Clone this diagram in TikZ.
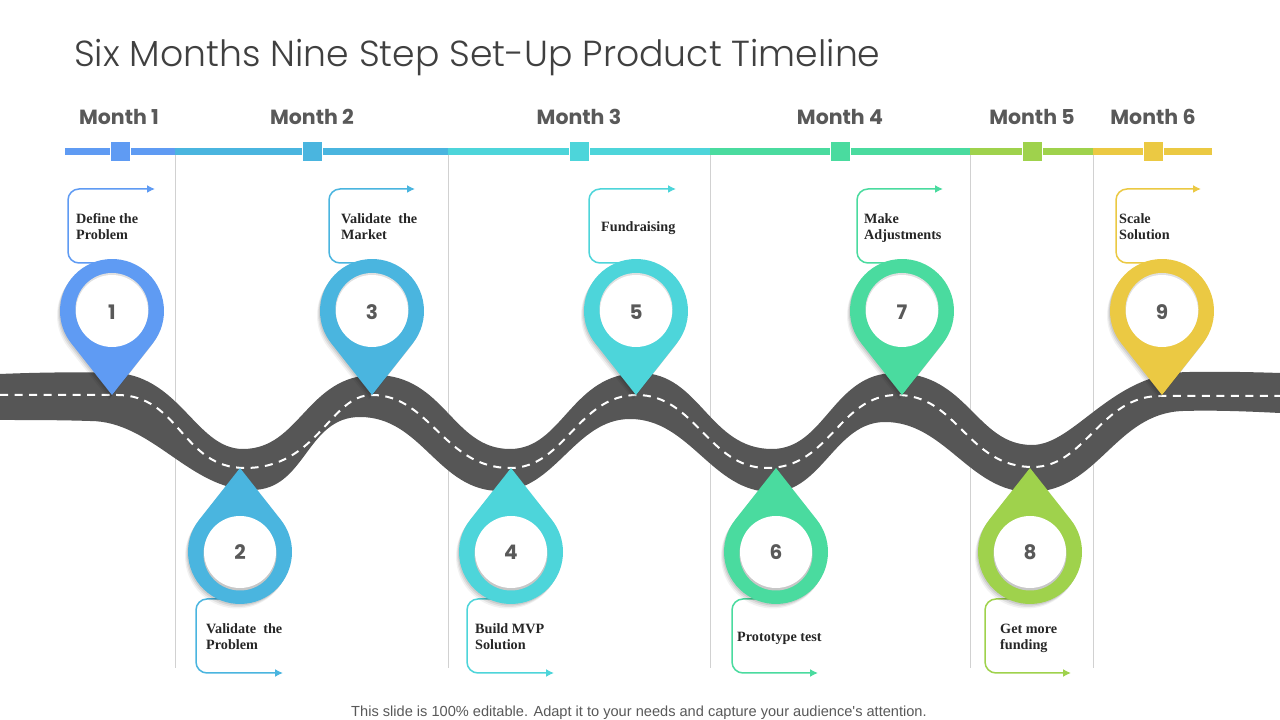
\documentclass[tikz,border=0pt]{standalone}
\usepackage{fontspec}
\setmainfont{Liberation Serif}
\newfontfamily\headfont{Poppins}
\newfontfamily\titlefont{Poppins Light}
\newfontfamily\footfont{Liberation Sans}
\usetikzlibrary{shadows,arrows.meta}
\definecolor{pinblue}{HTML}{5F9BF3}
\definecolor{pinsky}{HTML}{4AB5DF}
\definecolor{pinteal}{HTML}{4DD5DA}
\definecolor{pingreen}{HTML}{4ADB9F}
\definecolor{pinlime}{HTML}{9FD24C}
\definecolor{pinyellow}{HTML}{EBC943}
\definecolor{roadgray}{HTML}{565656}
\definecolor{textgray}{HTML}{595959}
\tikzset{
  bar/.style={line width=7},
  monthbox/.style={draw=white,line width=0.8,minimum size=20,inner sep=0},
  monthlabel/.style={font=\headfont\bfseries\fontsize{20.5}{24}\selectfont,text=textgray,inner sep=0},
  steplabel/.style={font=\bfseries\fontsize{14.2}{16}\selectfont,text=black!85,align=left,anchor=west,inner sep=0},
  bracket/.style={line width=1.5,rounded corners=11,-{Latex[length=8,width=8]}},
  pinnum/.style={font=\headfont\bfseries\fontsize{20}{24}\selectfont,text=textgray,inner sep=0},
  pinshadow/.style={
    drop shadow={shadow xshift=-1,shadow yshift=-1.5,opacity=.09,fill=black},
    drop shadow={shadow xshift=-2,shadow yshift=-3,opacity=.07,fill=black},
    drop shadow={shadow xshift=-3,shadow yshift=-4.5,opacity=.05,fill=black}},
  pics/pinup/.style 2 args={code={
    \fill[#1,pinshadow] (-38.25:52) arc (-38.25:218.25:52) -- (0,-84) -- cycle;
    \fill[black!12] (0,1.5) circle (36.5);
    \fill[white] (0,0) circle (36);
    \node[pinnum] (-num) at (0,-1) {#2};
  }},
  pics/pindown/.style 2 args={code={
    \fill[#1,pinshadow] (141.75:52) arc (141.75:398.25:52) -- (0,84) -- cycle;
    \fill[black!22] (0,-2) circle (36.5);
    \fill[white] (0,0) circle (36);
    \node[pinnum] (-num) at (0,0) {#2};
  }}
}
\begin{document}
\begin{tikzpicture}[x=1pt,y=1pt]
\useasboundingbox (0,0) rectangle (1280,720);
\fill[white] (0,0) rectangle (1280,720);
\node[font=\titlefont\fontsize{36.2}{40}\selectfont,text=black!75,anchor=west,inner sep=0] (title) at (74,662) {Six Months Nine Step Set-Up Product Timeline};
% month dividers
\draw[black!18,line width=0.8] (175,569) -- (175,52);
\draw[black!18,line width=0.8] (448,569) -- (448,52);
\draw[black!18,line width=0.8] (710,569) -- (710,52);
\draw[black!18,line width=0.8] (970,569) -- (970,52);
\draw[black!18,line width=0.8] (1093,569) -- (1093,52);
% month bar
\draw[bar,pinblue] (65,568.5) -- (175,568.5);
\draw[bar,pinsky] (175,568.5) -- (448,568.5);
\draw[bar,pinteal] (448,568.5) -- (710,568.5);
\draw[bar,pingreen] (710,568.5) -- (970,568.5);
\draw[bar,pinlime] (970,568.5) -- (1093,568.5);
\draw[bar,pinyellow] (1093,568.5) -- (1212,568.5);
\node[monthbox,fill=pinblue] (box1) at (120,568.5) {};
\node[monthbox,fill=pinsky] (box2) at (312,568.5) {};
\node[monthbox,fill=pinteal] (box3) at (579,568.5) {};
\node[monthbox,fill=pingreen] (box4) at (840,568.5) {};
\node[monthbox,fill=pinlime] (box5) at (1032,568.5) {};
\node[monthbox,fill=pinyellow] (box6) at (1153,568.5) {};
\node[monthlabel] (month1) at (119,603) {Month 1};
\node[monthlabel] (month2) at (312,603) {Month 2};
\node[monthlabel] (month3) at (579,603) {Month 3};
\node[monthlabel] (month4) at (840,603) {Month 4};
\node[monthlabel] (month5) at (1032,603) {Month 5};
\node[monthlabel] (month6) at (1153,603) {Month 6};
% road
\fill[roadgray] (0,346) .. controls (35,347.5) and (75,348) .. (110,347.5)
  .. controls (180,347) and (195,271) .. (243,271)
  .. controls (300,271) and (307,345) .. (375,345)
  .. controls (445,345) and (452,271) .. (510,271)
  .. controls (563,271) and (571,347) .. (640,347)
  .. controls (700,347) and (709,271) .. (772,271)
  .. controls (825,271) and (833,347) .. (895,347)
  .. controls (968,347) and (976,275) .. (1032,275)
  .. controls (1075,275) and (1112,348) .. (1190,348)
  .. controls (1220,348.5) and (1250,348) .. (1280,347)
  -- (1280,307) .. controls (1250,308.5) and (1215,310) .. (1183,309)
  .. controls (1115,307) and (1098,228) .. (1030,228)
  .. controls (970,228) and (945,298) .. (885,298)
  .. controls (835,298) and (822,228) .. (772,228)
  .. controls (712,228) and (690,301) .. (630,301)
  .. controls (575,301) and (555,229) .. (500,229)
  .. controls (438,229) and (422,303) .. (360,303)
  .. controls (306,303) and (306,230) .. (252,230)
  .. controls (190,230) and (152,299) .. (90,299)
  .. controls (60,300) and (30,300) .. (0,300) -- cycle;
\draw[white,line width=2,dash pattern=on 8 off 6.5] (0,325) .. controls (40,325) and (85,325) .. (117,325)
  .. controls (180,325) and (182,252) .. (245,252)
  .. controls (318,252) and (330,325) .. (372,325)
  .. controls (430,325) and (444,252) .. (510,252)
  .. controls (565,252) and (578,325) .. (637,325)
  .. controls (695,325) and (709,252) .. (767,252)
  .. controls (830,252) and (839,325) .. (897,325)
  .. controls (958,325) and (967,253) .. (1033,253)
  .. controls (1085,253) and (1101,324) .. (1160,324)
  .. controls (1200,324) and (1240,324) .. (1280,324);
% brackets
\coordinate (s1) at (100,457); \coordinate (e1) at (155,531);
\coordinate (s3) at (360,457); \coordinate (e3) at (415,531);
\coordinate (s5) at (624,457); \coordinate (e5) at (676,531);
\coordinate (s7) at (890,457); \coordinate (e7) at (943,531);
\coordinate (s9) at (1150,457); \coordinate (e9) at (1201,531);
\coordinate (s2) at (230,121); \coordinate (e2) at (283,47);
\coordinate (s4) at (500,121); \coordinate (e4) at (554,47);
\coordinate (s6) at (765,121); \coordinate (e6) at (818,47);
\coordinate (s8) at (1020,121); \coordinate (e8) at (1071,47);
\draw[bracket,pinblue] (s1) -- (68,457) -- (68,531) -- (e1);
\draw[bracket,pinsky] (s3) -- (329,457) -- (329,531) -- (e3);
\draw[bracket,pinteal] (s5) -- (589,457) -- (589,531) -- (e5);
\draw[bracket,pingreen] (s7) -- (857,457) -- (857,531) -- (e7);
\draw[bracket,pinyellow] (s9) -- (1116,457) -- (1116,531) -- (e9);
\draw[bracket,pinsky] (s2) -- (196,121) -- (196,47) -- (e2);
\draw[bracket,pinteal] (s4) -- (467,121) -- (467,47) -- (e4);
\draw[bracket,pingreen] (s6) -- (732,121) -- (732,47) -- (e6);
\draw[bracket,pinlime] (s8) -- (985,121) -- (985,47) -- (e8);
% labels
\node[steplabel] (text1) at (76,493) {Define the\\Problem};
\node[steplabel] (text3) at (341,493) {Validate~~the\\Market};
\node[steplabel] (text5) at (601,491.5) {Fundraising};
\node[steplabel] (text7) at (864,491.5) {Make\\Adjustments};
\node[steplabel] (text9) at (1119,493) {Scale\\Solution};
\node[steplabel] (text2) at (206,83) {Validate~~the\\Problem};
\node[steplabel] (text4) at (475,83) {Build MVP\\Solution};
\node[steplabel] (text6) at (737,81.5) {Prototype test};
\node[steplabel] (text8) at (1000,81.5) {Get more\\funding};
% pins
\pic (pin1) at (112,409) {pinup={pinblue}{1}};
\pic (pin3) at (372,409) {pinup={pinsky}{3}};
\pic (pin5) at (636,409) {pinup={pinteal}{5}};
\pic (pin7) at (902,409) {pinup={pingreen}{7}};
\pic (pin9) at (1162,409) {pinup={pinyellow}{9}};
\pic (pin2) at (240,168) {pindown={pinsky}{2}};
\pic (pin4) at (511,168) {pindown={pinteal}{4}};
\pic (pin6) at (776,168) {pindown={pingreen}{6}};
\pic (pin8) at (1030,168) {pindown={pinlime}{8}};
\node[font=\footfont\fontsize{14.6}{16}\selectfont,text=textgray,inner sep=0,anchor=south] (foot) at (639,0) {This slide is 100\% editable. Adapt it to your needs and capture your audience's attention.};
\end{tikzpicture}
\end{document}
